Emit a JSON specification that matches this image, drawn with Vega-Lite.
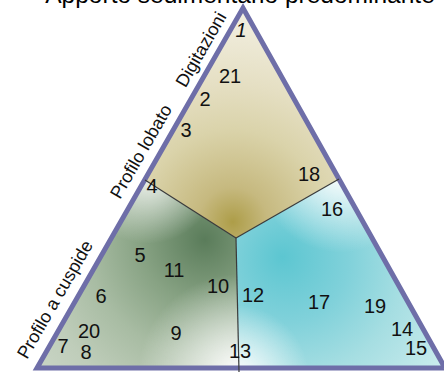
{
  "$schema": "https://vega.github.io/schema/vega-lite/v6.json",
  "width": 444,
  "height": 372,
  "padding": 0,
  "autosize": {"type": "none"},
  "background": "white",
  "config": {"view": {"stroke": null}},
  "datasets": {
    "poly": [
      {"r": "top", "i": 0, "x": 243, "y": 8},
      {"r": "top", "i": 1, "x": 339, "y": 179},
      {"r": "top", "i": 2, "x": 236, "y": 238},
      {"r": "top", "i": 3, "x": 145, "y": 180},
      {"r": "left", "i": 0, "x": 145, "y": 180},
      {"r": "left", "i": 1, "x": 236, "y": 238},
      {"r": "left", "i": 2, "x": 239, "y": 368},
      {"r": "left", "i": 3, "x": 37, "y": 368},
      {"r": "right", "i": 0, "x": 236, "y": 238},
      {"r": "right", "i": 1, "x": 339, "y": 179},
      {"r": "right", "i": 2, "x": 445, "y": 368},
      {"r": "right", "i": 3, "x": 239, "y": 368}
    ],
    "outline": [
      {"i": 0, "x": 241, "y": 368},
      {"i": 1, "x": 445, "y": 368},
      {"i": 2, "x": 243, "y": 8},
      {"i": 3, "x": 37, "y": 368},
      {"i": 4, "x": 241, "y": 368}
    ],
    "div": [
      {"s": "a", "i": 0, "x": 145, "y": 180},
      {"s": "a", "i": 1, "x": 236, "y": 238},
      {"s": "b", "i": 0, "x": 339, "y": 179},
      {"s": "b", "i": 1, "x": 236, "y": 238},
      {"s": "c", "i": 0, "x": 236, "y": 238},
      {"s": "c", "i": 1, "x": 239, "y": 372}
    ],
    "labels": [
      {"t": "21", "x": 230, "y": 77},
      {"t": "2", "x": 205, "y": 100},
      {"t": "3", "x": 186, "y": 131},
      {"t": "18", "x": 309, "y": 175},
      {"t": "4", "x": 152, "y": 187},
      {"t": "16", "x": 332, "y": 210},
      {"t": "5", "x": 140, "y": 256},
      {"t": "11", "x": 174, "y": 271},
      {"t": "10", "x": 218, "y": 287},
      {"t": "12", "x": 253, "y": 296},
      {"t": "6", "x": 101, "y": 297},
      {"t": "17", "x": 319, "y": 303},
      {"t": "19", "x": 375, "y": 307},
      {"t": "20", "x": 89, "y": 332},
      {"t": "9", "x": 176, "y": 334},
      {"t": "14", "x": 402, "y": 330},
      {"t": "7", "x": 63, "y": 347},
      {"t": "8", "x": 86, "y": 353},
      {"t": "13", "x": 240, "y": 352},
      {"t": "15", "x": 416, "y": 349}
    ],
    "apex": [{"t": "1", "x": 241, "y": 31}],
    "sides": [
      {"t": "Digitazioni", "x": 202, "y": 50},
      {"t": "Profilo lobato", "x": 142, "y": 152},
      {"t": "Profilo a cuspide", "x": 56, "y": 300}
    ],
    "title": [{"t": "Apporto sedimentario predominante", "x": 240, "y": 2.5}]
  },
  "encoding": {
    "x": {"field": "x", "type": "quantitative", "scale": {"domain": [0, 444], "nice": false, "zero": false}, "axis": null},
    "y": {"field": "y", "type": "quantitative", "scale": {"domain": [0, 372], "reverse": true, "nice": false, "zero": false}, "axis": null}
  },
  "layer": [
    {
      "data": {"name": "poly"},
      "transform": [{"filter": "datum.r === 'top'"}],
      "mark": {"type": "line", "strokeOpacity": 0, "fill": {"gradient": "radial", "x1": 0.46, "y1": 0.93, "r1": 0, "x2": 0.46, "y2": 0.93, "r2": 1, "stops": [
        {"offset": 0, "color": "#ad9d48"},
        {"offset": 0.15, "color": "#c6b97f"},
        {"offset": 0.4, "color": "#dad3aa"},
        {"offset": 0.6, "color": "#e5dfc3"},
        {"offset": 1, "color": "#f6f4ea"}
      ]}},
      "encoding": {"order": {"field": "i"}}
    },
    {
      "data": {"name": "poly"},
      "transform": [{"filter": "datum.r === 'left'"}],
      "mark": {"type": "line", "strokeOpacity": 0, "fill": {"gradient": "radial", "x1": 0.83, "y1": 0.33, "r1": 0, "x2": 0.83, "y2": 0.33, "r2": 1.05, "stops": [
        {"offset": 0, "color": "#5a7c5a"},
        {"offset": 0.3, "color": "#87a283"},
        {"offset": 0.55, "color": "#a8bca3"},
        {"offset": 0.8, "color": "#bfcdba"},
        {"offset": 1, "color": "#c9d5c5"}
      ]}},
      "encoding": {"order": {"field": "i"}}
    },
    {
      "data": {"name": "poly"},
      "transform": [{"filter": "datum.r === 'left'"}],
      "mark": {"type": "line", "strokeOpacity": 0, "fill": {"gradient": "radial", "x1": 1, "y1": 1, "r1": 0, "x2": 1, "y2": 1, "r2": 0.5, "stops": [
        {"offset": 0, "color": "rgba(255,255,255,1)"},
        {"offset": 1, "color": "rgba(255,255,255,0)"}
      ]}},
      "encoding": {"order": {"field": "i"}}
    },
    {
      "data": {"name": "poly"},
      "transform": [{"filter": "datum.r === 'left'"}],
      "mark": {"type": "line", "strokeOpacity": 0, "fill": {"gradient": "radial", "x1": 0.55, "y1": 0, "r1": 0, "x2": 0.55, "y2": 0, "r2": 0.35, "stops": [
        {"offset": 0, "color": "rgba(255,255,255,0.9)"},
        {"offset": 1, "color": "rgba(255,255,255,0)"}
      ]}},
      "encoding": {"order": {"field": "i"}}
    },
    {
      "data": {"name": "poly"},
      "transform": [{"filter": "datum.r === 'right'"}],
      "mark": {"type": "line", "strokeOpacity": 0, "fill": {"gradient": "radial", "x1": 0.22, "y1": 0.42, "r1": 0, "x2": 0.32, "y2": 0.5, "r2": 0.95, "stops": [
        {"offset": 0, "color": "#5cc6d1"},
        {"offset": 0.3, "color": "#80d1da"},
        {"offset": 0.55, "color": "#a6dee2"},
        {"offset": 0.8, "color": "#c3e9eb"},
        {"offset": 1, "color": "#e0f4f4"}
      ]}},
      "encoding": {"order": {"field": "i"}}
    },
    {
      "data": {"name": "poly"},
      "transform": [{"filter": "datum.r === 'right'"}],
      "mark": {"type": "line", "strokeOpacity": 0, "fill": {"gradient": "radial", "x1": 0.5, "y1": 0, "r1": 0, "x2": 0.5, "y2": 0, "r2": 0.4, "stops": [
        {"offset": 0, "color": "rgba(255,255,255,1)"},
        {"offset": 1, "color": "rgba(255,255,255,0)"}
      ]}},
      "encoding": {"order": {"field": "i"}}
    },
    {
      "data": {"name": "poly"},
      "transform": [{"filter": "datum.r === 'right'"}],
      "mark": {"type": "line", "strokeOpacity": 0, "fill": {"gradient": "radial", "x1": 0, "y1": 1, "r1": 0, "x2": 0, "y2": 1, "r2": 0.35, "stops": [
        {"offset": 0, "color": "rgba(255,255,255,1)"},
        {"offset": 1, "color": "rgba(255,255,255,0)"}
      ]}},
      "encoding": {"order": {"field": "i"}}
    },
    {
      "data": {"name": "outline"},
      "mark": {"type": "line", "stroke": "#6e6ea8", "strokeWidth": 5, "strokeJoin": "miter", "strokeMiterLimit": 10},
      "encoding": {"order": {"field": "i"}}
    },
    {
      "data": {"name": "div"},
      "mark": {"type": "line", "stroke": "#3a3a3a", "strokeWidth": 1.2},
      "encoding": {"order": {"field": "i"}, "detail": {"field": "s"}}
    },
    {
      "data": {"name": "labels"},
      "mark": {"type": "text", "font": "Liberation Sans", "fontSize": 20, "color": "#111111", "align": "center", "baseline": "middle"},
      "encoding": {"text": {"field": "t"}}
    },
    {
      "data": {"name": "apex"},
      "mark": {"type": "text", "font": "Liberation Sans", "fontSize": 20, "fontStyle": "italic", "color": "#111111", "align": "center", "baseline": "middle"},
      "encoding": {"text": {"field": "t"}}
    },
    {
      "data": {"name": "sides"},
      "mark": {"type": "text", "font": "Liberation Sans", "fontSize": 18, "angle": 300, "color": "#111111", "align": "center", "baseline": "middle"},
      "encoding": {"text": {"field": "t"}}
    },
    {
      "data": {"name": "title"},
      "mark": {"type": "text", "font": "Liberation Sans", "fontSize": 24.5, "color": "#000000", "align": "center", "baseline": "alphabetic"},
      "encoding": {"text": {"field": "t"}}
    }
  ]
}
